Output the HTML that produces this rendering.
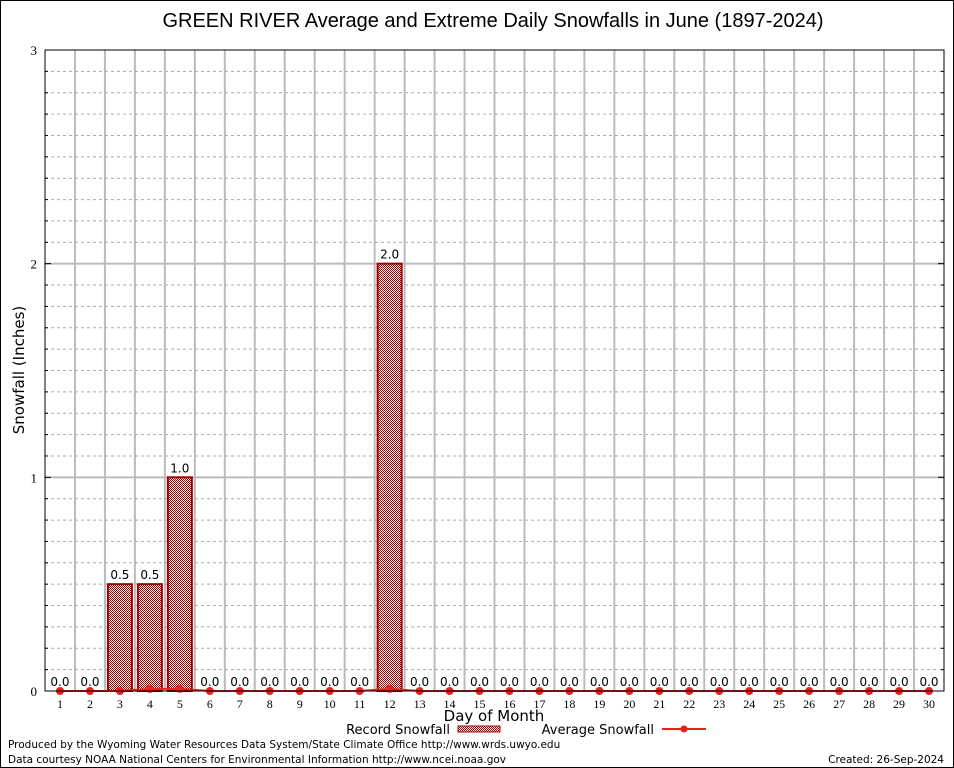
<!DOCTYPE html>
<html><head><meta charset="utf-8"><style>
body{margin:0;background:#fff;}
svg{display:block;font-family:"DejaVu Sans","Liberation Sans",sans-serif;}
</style></head><body>
<svg id="c" width="954" height="768" xmlns="http://www.w3.org/2000/svg">
<defs>
<pattern id="chk" width="2" height="2" patternUnits="userSpaceOnUse">
<rect width="2" height="2" fill="#fff"/>
<rect x="0" y="0" width="1" height="1" fill="#a00000"/>
<rect x="1" y="1" width="1" height="1" fill="#a00000"/>
</pattern>
</defs>
<rect x="0.5" y="0.5" width="953" height="767" fill="#fff" stroke="#000"/>
<text x="493" y="27" font-size="20" text-anchor="middle" font-family="Liberation Sans, sans-serif">GREEN RIVER Average and Extreme Daily Snowfalls in June (1897-2024)</text>
<g id="grid"></g>
<g id="bars"></g>
<g id="avg"></g>
<g id="labels"></g>
<rect x="45" y="50" width="899" height="641" fill="none" stroke="#000"/>
<g id="axes"></g>
<text transform="translate(24,370) rotate(-90)" font-size="15" text-anchor="middle">Snowfall (Inches)</text>
<text x="494" y="721" font-size="15" text-anchor="middle">Day of Month</text>
<g>
<text x="450" y="734" font-size="13" text-anchor="end">Record Snowfall</text>
<rect x="458" y="726" width="42" height="6" fill="url(#chk)" stroke="#a00000"/>
</g>
<g>
<text x="654" y="734" font-size="13" text-anchor="end">Average Snowfall</text>
<line x1="662" y1="729" x2="706" y2="729" stroke="#e82020" stroke-width="2"/>
<circle cx="684" cy="729" r="3.5" fill="#e82020"/>
</g>
<text x="8" y="748" font-size="10.5">Produced by the Wyoming Water Resources Data System/State Climate Office http://www.wrds.uwyo.edu</text>
<text x="8" y="763" font-size="10.5">Data courtesy NOAA National Centers for Environmental Information http://www.ncei.noaa.gov</text>
<text x="944" y="763" font-size="10.5" text-anchor="end">Created:  26-Sep-2024</text>
</svg>
<script>
const days=[1,2,3,4,5,6,7,8,9,10,11,12,13,14,15,16,17,18,19,20,21,22,23,24,25,26,27,28,29,30];
const recordSnow=[0,0,0.5,0.5,1.0,0,0,0,0,0,0,2.0,0,0,0,0,0,0,0,0,0,0,0,0,0,0,0,0,0,0];
const avgSnow=[0,0,0,0.01,0.01,0,0,0,0,0,0,0.01,0,0,0,0,0,0,0,0,0,0,0,0,0,0,0,0,0,0];
const yTicks=[0,1,2,3];
const yMax=3;
const NS="http://www.w3.org/2000/svg";
const L=45,R=944,T=50,B=691;
const step=(R-L)/days.length;
const xs=d=>L+step*(d-0.5);
const ys=v=>B-(v/yMax)*(B-T);
function mk(tag,attrs,parent,txt){const e=document.createElementNS(NS,tag);for(const k in attrs)e.setAttribute(k,attrs[k]);if(txt!==undefined)e.textContent=txt;document.getElementById(parent).appendChild(e);return e;}
for(let i=1;i<days.length;i++){const x=L+step*i;
const g=mk('line',{x1:x,x2:x,y1:T,y2:B,stroke:'#bbb','stroke-width':2},'grid');

}
for(let v=0.1;v<yMax-0.001;v+=0.1){const isMaj=Math.abs(v-Math.round(v))<0.001;const y=ys(v);
const g=mk('line',{x1:L,x2:R,y1:y,y2:y,stroke:isMaj?'#bbb':'#aaa','stroke-width':isMaj?2:1,'stroke-dasharray':isMaj?'':'3,3'},'grid');


const t1=mk('line',{x1:L,x2:L+(isMaj?6:3),y1:y,y2:y,stroke:'#000'},'axes');


const t2=mk('line',{x1:R,x2:R-(isMaj?6:3),y1:y,y2:y,stroke:'#000'},'axes');

}
yTicks.forEach(v=>{const t=mk('text',{x:37,y:ys(v)+5,'font-size':13,'text-anchor':'end','font-family':'Liberation Serif, serif'},'axes',String(v));

});
days.forEach((d,i)=>{const x=xs(d);
const t=mk('text',{x:x,y:708,'font-size':12,'text-anchor':'middle','font-family':'Liberation Serif, serif'},'axes',String(d));


const v=recordSnow[i];
if(v>0){const b=mk('rect',{x:x-12,y:ys(v),width:24,height:B-ys(v),fill:'url(#chk)',stroke:'#a00000','stroke-width':2},'bars');

}
const lb=mk('text',{x:x,y:ys(v)-5,'font-size':12,'text-anchor':'middle'},'labels',v.toFixed(1));

});
const pts=days.map((d,i)=>xs(d)+','+ys(avgSnow[i])).join(' ');
const pl=mk('polyline',{points:pts,fill:'none',stroke:'#e82020','stroke-width':2},'avg');


days.forEach((d,i)=>{const c=mk('circle',{cx:xs(d),cy:ys(avgSnow[i]),r:4,fill:'#e82020'},'avg');

});
</script>
</body></html>
